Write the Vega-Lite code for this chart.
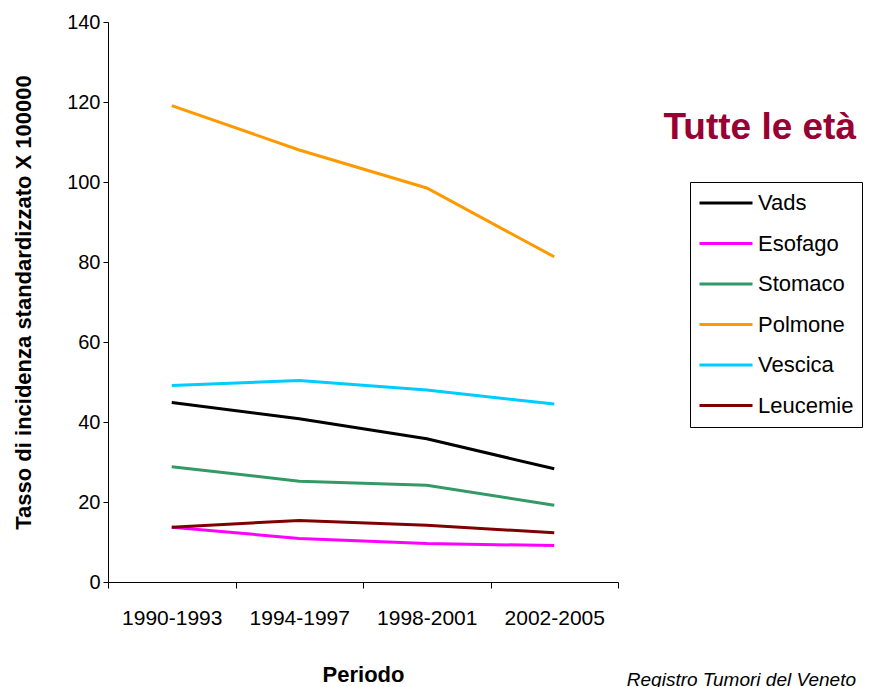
{
  "$schema": "https://vega.github.io/schema/vega-lite/v6.json",
  "width": 510,
  "height": 560,
  "autosize": "none",
  "padding": {"left": 108, "top": 22, "right": 255, "bottom": 105},
  "background": "white",
  "config": {"view": {"stroke": null}, "font": "Liberation Sans"},
  "title": {
    "text": "Tutte le età",
    "subtitle": "Registro Tumori del Veneto",
    "anchor": "end",
    "frame": "group",
    "orient": "top",
    "offset": 0,
    "fontSize": 37,
    "fontWeight": "bold",
    "color": "#990033",
    "subtitleFontSize": 19,
    "subtitleFontStyle": "italic",
    "subtitleColor": "black",
    "subtitlePadding": 524,
    "dx": 238,
    "dy": 679
  },
  "data": {
    "values": [
      {"periodo": "1990-1993", "sede": "Vads", "tasso": 44.9},
      {"periodo": "1994-1997", "sede": "Vads", "tasso": 40.8},
      {"periodo": "1998-2001", "sede": "Vads", "tasso": 35.8},
      {"periodo": "2002-2005", "sede": "Vads", "tasso": 28.3},
      {"periodo": "1990-1993", "sede": "Esofago", "tasso": 13.7},
      {"periodo": "1994-1997", "sede": "Esofago", "tasso": 10.9},
      {"periodo": "1998-2001", "sede": "Esofago", "tasso": 9.6},
      {"periodo": "2002-2005", "sede": "Esofago", "tasso": 9.1},
      {"periodo": "1990-1993", "sede": "Stomaco", "tasso": 28.8},
      {"periodo": "1994-1997", "sede": "Stomaco", "tasso": 25.2},
      {"periodo": "1998-2001", "sede": "Stomaco", "tasso": 24.2},
      {"periodo": "2002-2005", "sede": "Stomaco", "tasso": 19.2},
      {"periodo": "1990-1993", "sede": "Polmone", "tasso": 119.1},
      {"periodo": "1994-1997", "sede": "Polmone", "tasso": 108.0},
      {"periodo": "1998-2001", "sede": "Polmone", "tasso": 98.5},
      {"periodo": "2002-2005", "sede": "Polmone", "tasso": 81.3},
      {"periodo": "1990-1993", "sede": "Vescica", "tasso": 49.1},
      {"periodo": "1994-1997", "sede": "Vescica", "tasso": 50.4},
      {"periodo": "1998-2001", "sede": "Vescica", "tasso": 48.0},
      {"periodo": "2002-2005", "sede": "Vescica", "tasso": 44.5},
      {"periodo": "1990-1993", "sede": "Leucemie", "tasso": 13.7},
      {"periodo": "1994-1997", "sede": "Leucemie", "tasso": 15.4},
      {"periodo": "1998-2001", "sede": "Leucemie", "tasso": 14.2},
      {"periodo": "2002-2005", "sede": "Leucemie", "tasso": 12.3}
    ]
  },
  "mark": {"type": "line", "strokeWidth": 3},
  "encoding": {
    "x": {
      "field": "periodo",
      "type": "ordinal",
      "bandPosition": 0.5,
      "scale": {"type": "band", "paddingInner": 0, "paddingOuter": 0},
      "axis": {
        "title": "Periodo",
        "titleFontSize": 22,
        "titleFontWeight": "bold",
        "titleColor": "black",
        "titlePadding": 36,
        "labelAngle": 0,
        "labelFontSize": 21,
        "labelColor": "black",
        "labelPadding": 19,
        "tickSize": 6,
        "tickBand": "extent",
        "tickColor": "black",
        "domainColor": "black",
        "grid": false
      }
    },
    "y": {
      "field": "tasso",
      "type": "quantitative",
      "scale": {"domain": [0, 140], "nice": false},
      "axis": {
        "title": "Tasso di incidenza standardizzato X 100000",
        "titleFontSize": 22,
        "titleFontWeight": "bold",
        "titleColor": "black",
        "titlePadding": 31,
        "values": [0, 20, 40, 60, 80, 100, 120, 140],
        "labelFontSize": 20,
        "labelColor": "black",
        "labelPadding": 3,
        "tickSize": 5,
        "tickColor": "black",
        "domainColor": "black",
        "grid": false
      }
    },
    "color": {
      "field": "sede",
      "type": "nominal",
      "scale": {
        "domain": ["Vads", "Esofago", "Stomaco", "Polmone", "Vescica", "Leucemie"],
        "range": ["#000000", "#FF00FF", "#339966", "#FF9900", "#00CCFF", "#800000"]
      },
      "legend": {
        "orient": "none",
        "legendX": 582,
        "legendY": 160,
        "title": null,
        "symbolType": "stroke",
        "symbolSize": 2809,
        "symbolStrokeWidth": 3,
        "clipHeight": 26,
        "rowPadding": 14.5,
        "labelFontSize": 22,
        "labelColor": "black",
        "labelOffset": 4,
        "labelLimit": 300,
        "strokeColor": "black",
        "padding": 8
      }
    }
  }
}
